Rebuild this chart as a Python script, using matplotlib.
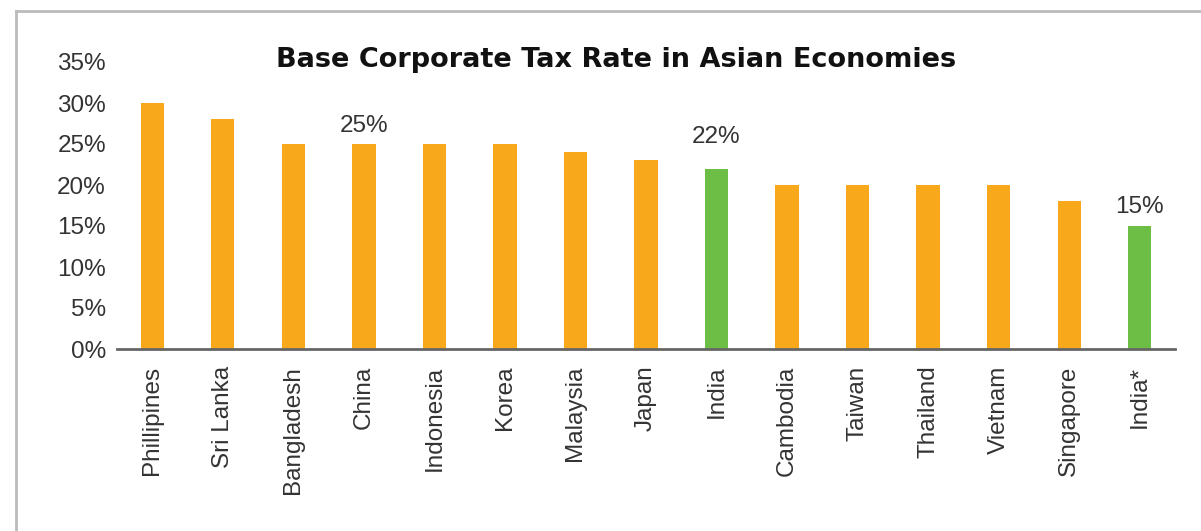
import matplotlib
matplotlib.use("Agg")
import matplotlib.pyplot as plt
from matplotlib.lines import Line2D

categories = ["Phillipines", "Sri Lanka", "Bangladesh", "China", "Indonesia", "Korea",
              "Malaysia", "Japan", "India", "Cambodia", "Taiwan", "Thailand",
              "Vietnam", "Singapore", "India*"]
rates = [30, 28, 25, 25, 25, 25, 24, 23, 22, 20, 20, 20, 20, 18, 15]
highlight = ["India", "India*"]
labelled = {"China": "25%", "India": "22%", "India*": "15%"}
yticks = [0, 5, 10, 15, 20, 25, 30, 35]

ORANGE = "#F7A81B"
GREEN = "#6DBE45"
TXT = "#333333"

plt.rcParams['font.family'] = ['Liberation Sans', 'DejaVu Sans']

fig = plt.figure(figsize=(12.01, 5.31), dpi=100)
ax = fig.add_axes([117/1201, 1-349/531, (1175-117)/1201, (349-62)/531])

colors = [GREEN if c in highlight else ORANGE for c in categories]
x = list(range(len(categories)))
ax.bar(x, rates, width=0.33, color=colors, zorder=2)

ax.set_xlim(-0.5, len(categories) - 0.5)
ax.set_ylim(0, 35)
ax.set_yticks(yticks)
ax.set_yticklabels([f"{v}%" for v in yticks], fontsize=17.5, color=TXT)
ax.set_xticks(x)
ax.set_xticklabels(categories, rotation=90, fontsize=17.5, color=TXT)
ax.tick_params(axis='y', length=0, pad=8)
ax.tick_params(axis='x', length=0, pad=12)

for s in ['top', 'right', 'left']:
    ax.spines[s].set_visible(False)
ax.spines['bottom'].set_color('#666666')
ax.spines['bottom'].set_linewidth(2)
ax.spines['bottom'].set_zorder(3)

offsets = {"China": 18, "India": 32, "India*": 19}
for i, c in enumerate(categories):
    if c in labelled:
        ax.annotate(labelled[c], (i, rates[i]), xytext=(0, offsets[c] * 0.72),
                    textcoords='offset points', ha='center', va='center',
                    fontsize=17.5, color=TXT)

fig.text(616/1201, 1-60/531, "Base Corporate Tax Rate in Asian Economies",
         ha='center', va='center', fontsize=19.5, fontweight='bold', color='#111111',
         family=['DejaVu Sans'])

fig.add_artist(Line2D([15.5/1201, 15.5/1201], [0, 1-11/531], color='#bbbbbb', lw=2,
                      transform=fig.transFigure))
fig.add_artist(Line2D([15.5/1201, 1], [1-11/531, 1-11/531], color='#bbbbbb', lw=2,
                      transform=fig.transFigure))

fig.savefig("out.png", dpi=100)
